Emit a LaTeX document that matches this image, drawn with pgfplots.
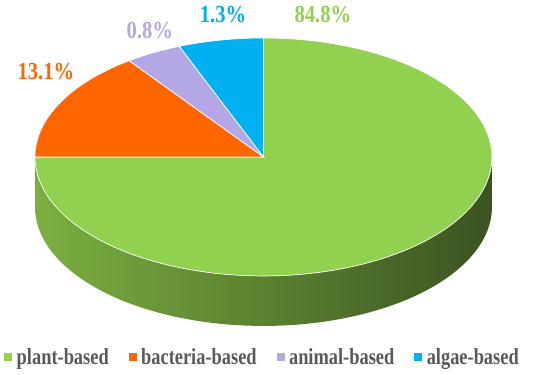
\documentclass[border=0pt]{standalone}
\usepackage{pgfplots}
\pgfplotsset{compat=1.18}
\usepackage{fontspec}
\setmainfont{Liberation Serif}
\definecolor{plantc}{HTML}{92D050}
\definecolor{bactc}{HTML}{FF6600}
\definecolor{animc}{HTML}{B4A7E5}
\definecolor{algc}{HTML}{00B0F0}
\definecolor{sideL}{HTML}{7CAF40}
\definecolor{sideM}{HTML}{5E8A34}
\definecolor{sideR}{HTML}{3A5321}
\definecolor{legtxt}{HTML}{595959}
% drawn slice shares (percent of the circle), start at 12 o'clock, clockwise:
% plant 75 -> angles 90 .. -180 ; bacteria 15 -> 180 .. 126 ;
% animal 4 -> 126 .. 111.6 ; algae 6 -> 111.6 .. 90
\begin{document}
\begin{tikzpicture}
\begin{axis}[
  x=228.5pt, y=119pt,
  xmin=-1.153, xmax=1.254, ymin=-1.824, ymax=1.319,
  hide axis, clip=false,
  legend columns=4,
  legend style={draw=none, fill=none, at={(axis cs:-0.004,-1.68)}, anchor=center,
    font=\fontsize{23}{23}\selectfont\bfseries, text=legtxt,
    /tikz/every even column/.append style={column sep=18pt},
    /tikz/every odd column/.append style={column sep=3pt}},
]
\draw[draw=none] (axis cs:-1.153,-1.824) rectangle (axis cs:1.254,1.319);
% side of the cylinder (front half)
\shade[left color=sideL, middle color=sideM, right color=sideR]
  plot[domain=180:360, samples=120, variable=\t] ({cos(\t)},{sin(\t)})
  -- plot[domain=360:180, samples=120, variable=\t] ({cos(\t)},{sin(\t)-0.42}) -- cycle;
% top face slices
\addplot[forget plot, fill=plantc, draw=white, line width=0.7pt, domain=-180:90, samples=150]
  ({cos(x)},{sin(x)}) -- (axis cs:0,0) -- cycle;
\addplot[forget plot, fill=bactc, draw=white, line width=0.7pt, domain=126:180, samples=40]
  ({cos(x)},{sin(x)}) -- (axis cs:0,0) -- cycle;
\addplot[forget plot, fill=animc, draw=white, line width=0.7pt, domain=111.6:126, samples=20]
  ({cos(x)},{sin(x)}) -- (axis cs:0,0) -- cycle;
\addplot[forget plot, fill=algc, draw=white, line width=0.7pt, domain=90:111.6, samples=20]
  ({cos(x)},{sin(x)}) -- (axis cs:0,0) -- cycle;
% labels
\node[text=plantc, font=\fontsize{24.5}{24.5}\selectfont\bfseries] at (axis cs:0.26,1.20) {\scalebox{0.84}[1]{84.8\%}};
\node[text=algc, font=\fontsize{24.5}{24.5}\selectfont\bfseries] at (axis cs:-0.177,1.197) {\scalebox{0.84}[1]{1.3\%}};
\node[text=animc, font=\fontsize{24.5}{24.5}\selectfont\bfseries] at (axis cs:-0.497,1.059) {\scalebox{0.84}[1]{0.8\%}};
\node[text=bactc, font=\fontsize{24.5}{24.5}\selectfont\bfseries] at (axis cs:-0.952,0.714) {\scalebox{0.84}[1]{13.1\%}};
% legend
\addlegendimage{legend image code/.code={\fill[plantc] (0pt,-3.5pt) rectangle (7pt,3.5pt);}}
\addlegendentry{\scalebox{0.8}[1]{plant-based}}
\addlegendimage{legend image code/.code={\fill[bactc] (0pt,-3.5pt) rectangle (7pt,3.5pt);}}
\addlegendentry{\scalebox{0.8}[1]{bacteria-based}}
\addlegendimage{legend image code/.code={\fill[animc] (0pt,-3.5pt) rectangle (7pt,3.5pt);}}
\addlegendentry{\scalebox{0.8}[1]{animal-based}}
\addlegendimage{legend image code/.code={\fill[algc] (0pt,-3.5pt) rectangle (7pt,3.5pt);}}
\addlegendentry{\scalebox{0.8}[1]{algae-based}}
\end{axis}
\end{tikzpicture}
\end{document}
